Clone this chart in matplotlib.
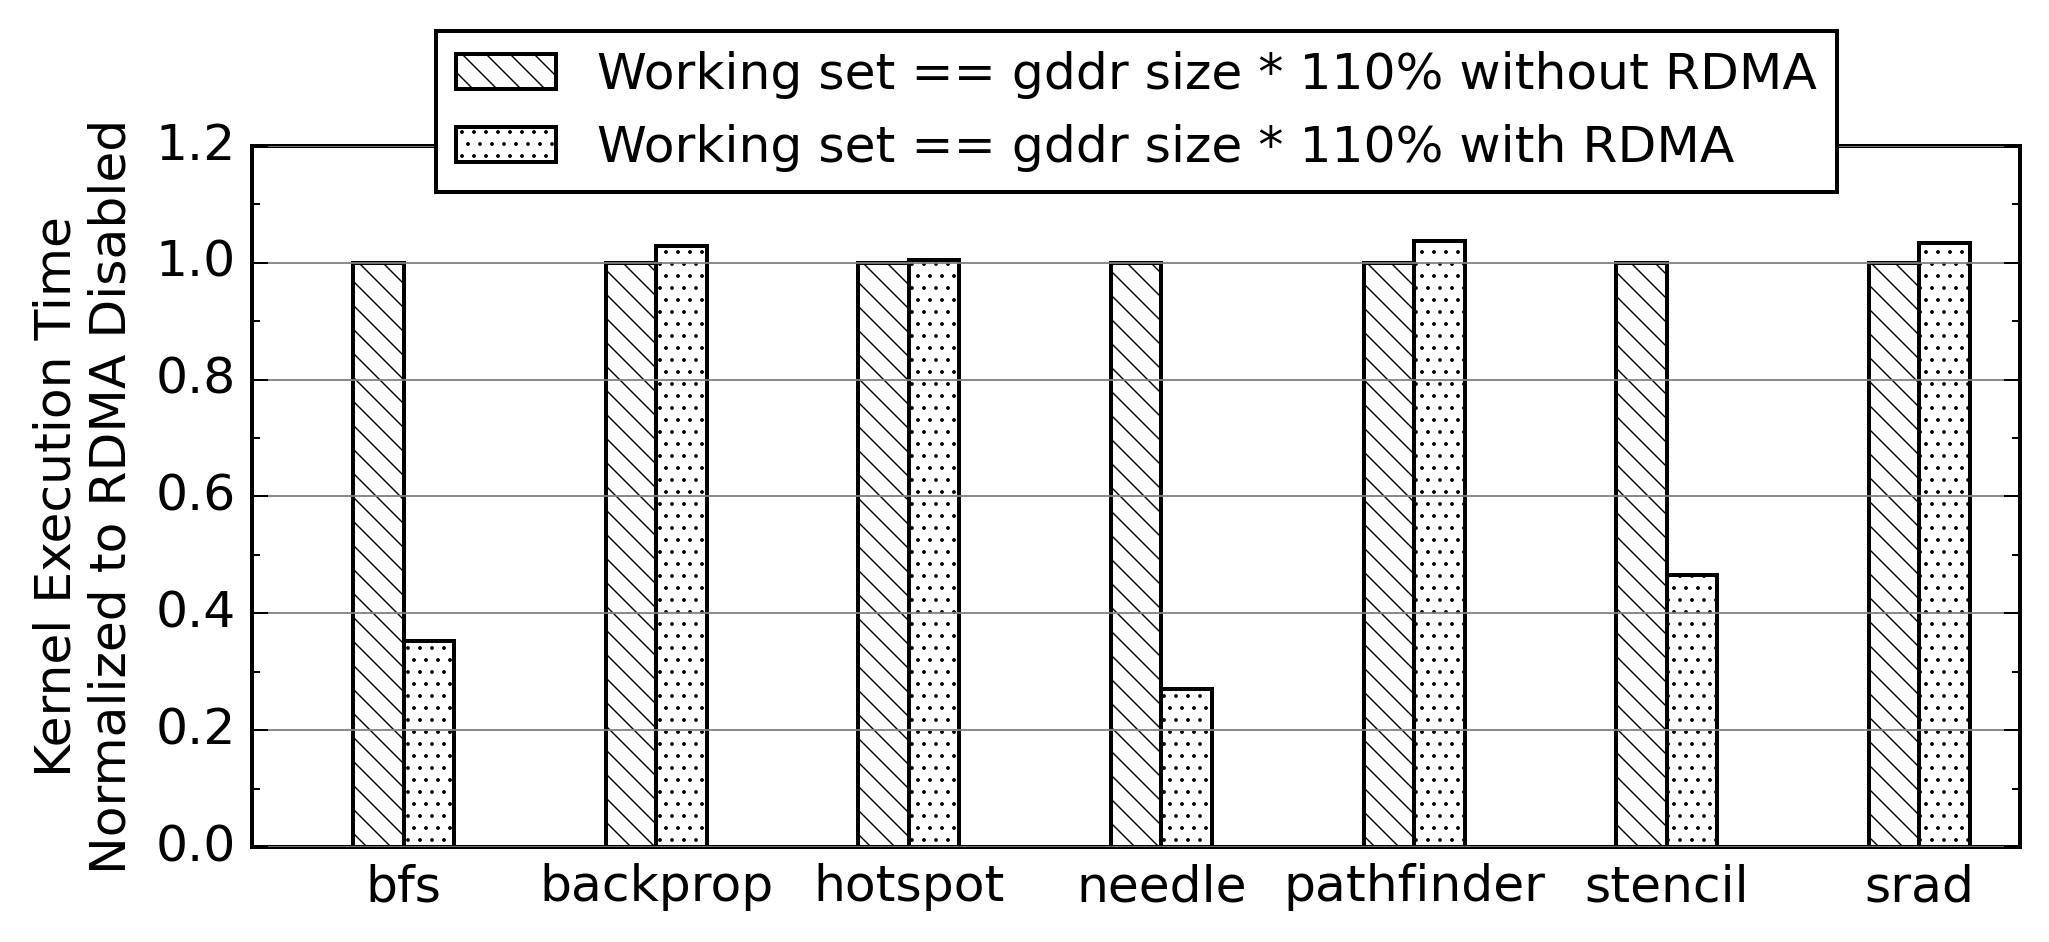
import numpy as np
import matplotlib
matplotlib.use('Agg')
import matplotlib.pyplot as plt
from matplotlib.ticker import MultipleLocator

plt.style.use('classic')
plt.rcParams['font.family'] = 'DejaVu Sans'
plt.rcParams['font.size'] = 12.6
plt.rcParams['hatch.linewidth'] = 0.35

benchmarks = ['bfs', 'backprop', 'hotspot', 'needle', 'pathfinder', 'stencil', 'srad']
without_rdma = [1.0, 1.0, 1.0, 1.0, 1.0, 1.0, 1.0]
with_rdma = [0.352, 1.029, 1.004, 0.270, 1.037, 0.466, 1.034]
labels = ['Working set == gddr size * 110% without RDMA',
          'Working set == gddr size * 110% with RDMA']

x = np.arange(len(benchmarks))
width = 0.2
back = chr(92)  # backslash, for the hatch pattern

dpi = 288
fig = plt.figure(figsize=(2049 / dpi, 942 / dpi), dpi=dpi, facecolor='white')
ax = fig.add_axes([0.123, 0.1008, 0.863, 0.7443])

ax.bar(x - width / 2, without_rdma, width, color='white', edgecolor='black',
       linewidth=1.0, hatch=back * 4, label=labels[0])
ax.bar(x + width / 2, with_rdma, width, color='white', edgecolor='black',
       linewidth=1.0, hatch='....', label=labels[1])

ax.set_xlim(-0.6, 6.4)
ax.set_ylim(0, 1.2)
ax.set_xticks(x)
ax.set_xticklabels(benchmarks)
ax.yaxis.set_major_locator(MultipleLocator(0.2))
ax.yaxis.set_minor_locator(MultipleLocator(0.1))
ax.tick_params(axis='x', which='both', length=0)
ax.tick_params(axis='y', which='both', direction='in', left=True, right=True)

ax.yaxis.grid(True, color='gray', linestyle='-', linewidth=0.45)
ax.xaxis.grid(False)

ax.set_ylabel('Kernel Execution Time\nNormalized to RDMA Disabled')

ax.legend(loc='upper center', bbox_to_anchor=(0.5, 1.2), ncol=1,
          fontsize=12.6, fancybox=False)

fig.savefig('out.png', dpi=dpi, facecolor='white')
